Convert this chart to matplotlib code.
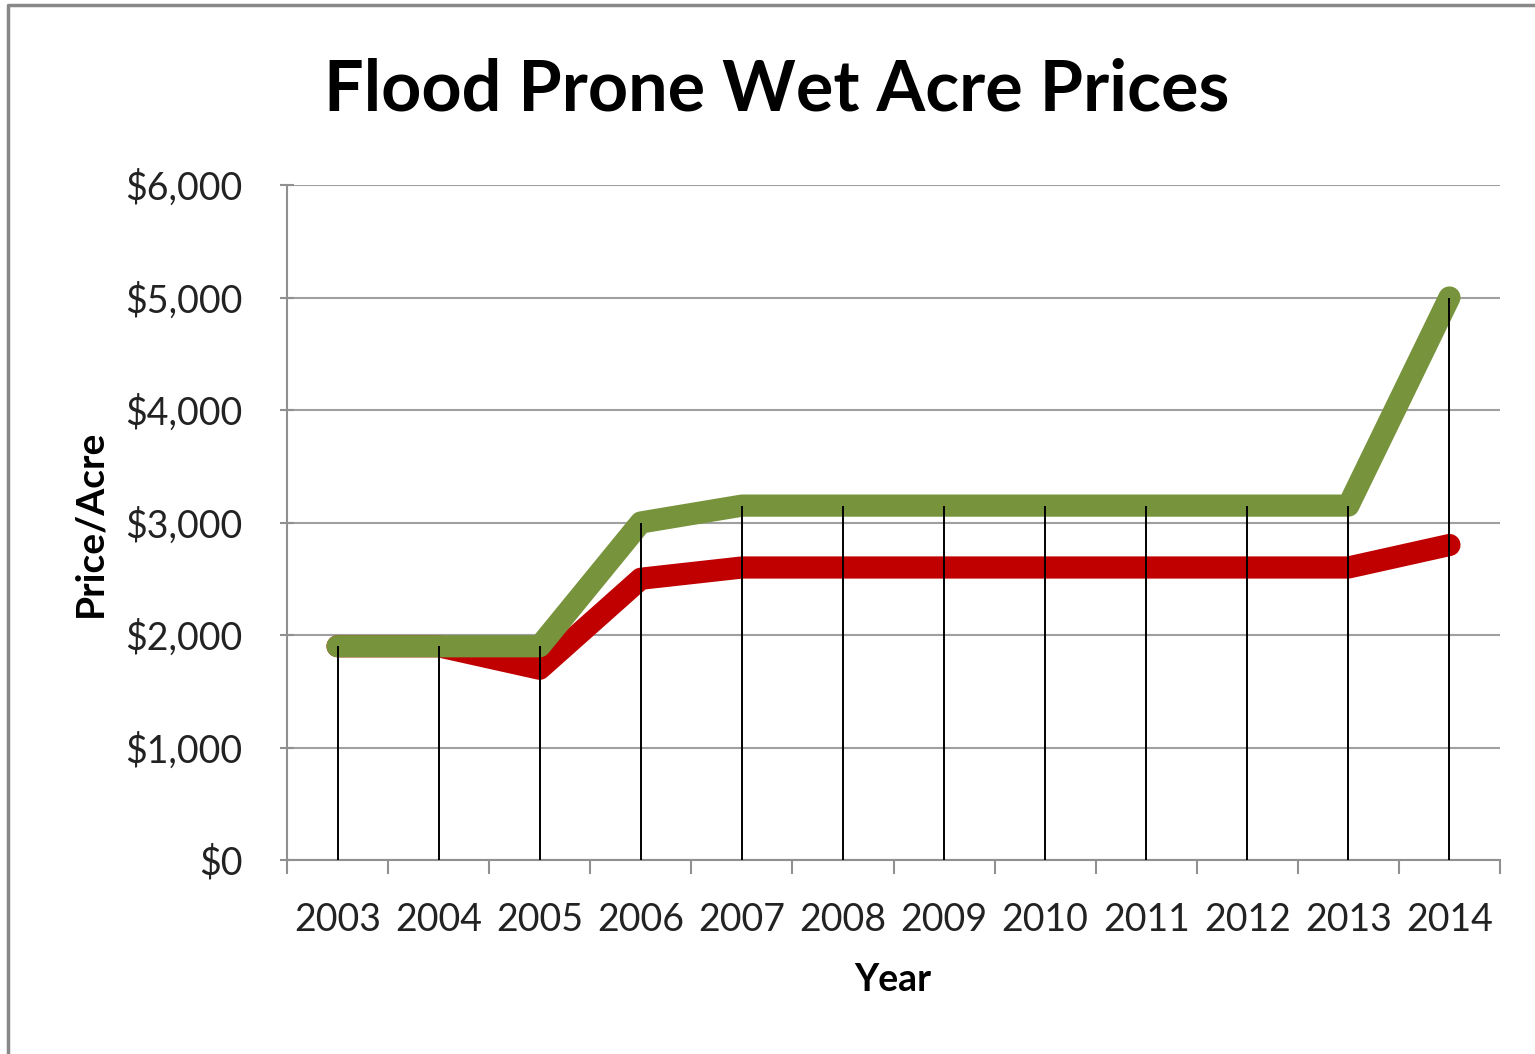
import numpy as np
import matplotlib
matplotlib.use("Agg")
from matplotlib import pyplot as plt
from matplotlib.lines import Line2D
from matplotlib.ticker import FuncFormatter

years = ['2003', '2004', '2005', '2006', '2007', '2008',
         '2009', '2010', '2011', '2012', '2013', '2014']
green_prices = [1900, 1900, 1900, 3000, 3150, 3150, 3150, 3150, 3150, 3150, 3150, 5000]
red_prices = [1900, 1900, 1700, 2500, 2600, 2600, 2600, 2600, 2600, 2600, 2600, 2800]

plt.rcParams['font.family'] = ['Lato', 'DejaVu Sans']

fig = plt.figure(figsize=(15.35, 10.54), dpi=100)
ax = fig.add_axes([287/1535, 1 - 860/1054, (1500-287)/1535, (860-185)/1054])

x = np.arange(len(years))
ax.plot(x, red_prices, color='#c00000', lw=16, solid_capstyle='round', solid_joinstyle='round', zorder=3)
ax.plot(x, green_prices, color='#77933c', lw=16, solid_capstyle='round', solid_joinstyle='round', zorder=4)

# drop lines from the highest point down to the axis
tops = np.maximum(green_prices, red_prices)
ax.vlines(x, 0, tops, color='black', lw=1.4, zorder=5)

ax.set_xlim(-0.5, len(years) - 0.5)
ax.set_ylim(0, 6000)
ax.set_yticks(np.arange(0, 6001, 1000))
ax.yaxis.set_major_formatter(FuncFormatter(lambda v, p: '${:,.0f}'.format(v)))
ax.grid(axis='y', color='#a0a0a0', lw=1.5, zorder=1)

# category labels centred, tick marks at the boundaries
ax.set_xticks(x)
ax.set_xticklabels(years)
ax.set_xticks(np.arange(-0.5, len(years)), minor=True)
ax.tick_params(axis='x', which='major', length=0, pad=30, labelsize=27, colors='#222222')
ax.tick_params(axis='x', which='minor', length=10, width=1.5, direction='out', color='#909090')
ax.tick_params(axis='y', length=10, width=1.5, direction='inout', color='#909090', pad=27, labelsize=27, labelcolor='#222222')

for s in ['top', 'right']:
    ax.spines[s].set_visible(False)
for s in ['left', 'bottom']:
    ax.spines[s].set_color('#909090')
    ax.spines[s].set_linewidth(1.5)

fig.text(777/1535, 1 - 90/1054, 'Flood Prone Wet Acre Prices', ha='center', va='center',
         fontsize=50.5, fontweight='bold')
fig.text(90/1535, 1 - 523/1054, 'Price/Acre', ha='center', va='center', rotation=90,
         fontsize=28, fontweight='bold')
fig.text(893/1535, 1 - 980/1054, 'Year', ha='center', va='center', fontsize=27, fontweight='bold')

# frame around the chart area (left and top edges visible)
fig.add_artist(Line2D([8/1535, 8/1535, 1], [0, 1 - 5/1054, 1 - 5/1054], transform=fig.transFigure,
                      color='#888888', lw=2.5))

fig.savefig('out.png', dpi=100)
